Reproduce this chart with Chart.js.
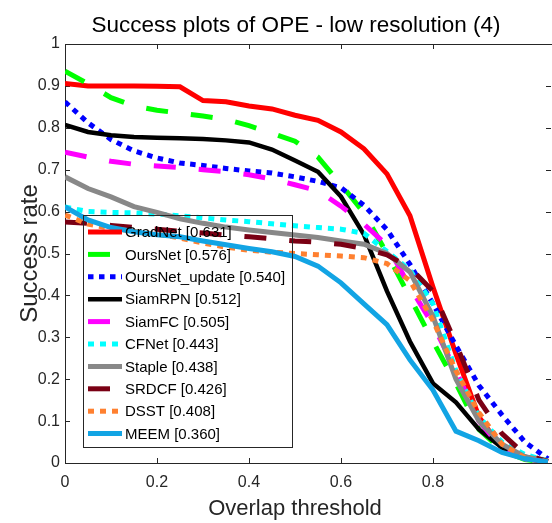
<!DOCTYPE html>
<html>
<head>
<meta charset="utf-8">
<script src="https://cdn.jsdelivr.net/npm/chart.js@4"></script>
<style>
  html, body { margin: 0; padding: 0; background: #fff; overflow: hidden; }
  #wrap { width: 560px; height: 523px; }
</style>
</head>
<body>
<div id="wrap"><canvas id="myChart" width="560" height="523"></canvas></div>
<script>
'use strict';

// overlap thresholds (x) and success rate per tracker (y)
const thresholds = [0, 0.05, 0.1, 0.15, 0.2, 0.25, 0.3, 0.35, 0.4, 0.45, 0.5, 0.55, 0.6, 0.65, 0.7, 0.75, 0.8, 0.85, 0.9, 0.95, 1, 1.05];
const gradNet       = [0.906, 0.900, 0.900, 0.900, 0.899, 0.898, 0.865, 0.862, 0.852, 0.845, 0.830, 0.818, 0.790, 0.750, 0.690, 0.590, 0.420, 0.260, 0.110, 0.035, 0.010, 0.002];
const oursNet       = [0.935, 0.905, 0.872, 0.852, 0.842, 0.835, 0.828, 0.820, 0.805, 0.787, 0.768, 0.730, 0.665, 0.597, 0.500, 0.395, 0.290, 0.190, 0.080, 0.030, 0.008, 0.002];
const oursNetUpdate = [0.862, 0.812, 0.772, 0.745, 0.728, 0.716, 0.710, 0.703, 0.697, 0.692, 0.683, 0.672, 0.657, 0.615, 0.557, 0.474, 0.380, 0.280, 0.185, 0.115, 0.050, 0.010];
const siamRPN       = [0.807, 0.790, 0.782, 0.778, 0.776, 0.775, 0.773, 0.770, 0.765, 0.748, 0.722, 0.695, 0.636, 0.545, 0.410, 0.290, 0.190, 0.145, 0.080, 0.037, 0.015, 0.004];
const siamFC        = [0.742, 0.730, 0.720, 0.713, 0.709, 0.705, 0.700, 0.695, 0.688, 0.678, 0.664, 0.650, 0.613, 0.570, 0.520, 0.420, 0.330, 0.220, 0.100, 0.035, 0.010, 0.002];
const cfNet         = [0.611, 0.600, 0.598, 0.597, 0.594, 0.590, 0.585, 0.580, 0.576, 0.571, 0.566, 0.562, 0.558, 0.548, 0.505, 0.460, 0.380, 0.220, 0.110, 0.050, 0.020, 0.005];
const staple        = [0.683, 0.655, 0.635, 0.612, 0.598, 0.583, 0.572, 0.563, 0.556, 0.550, 0.544, 0.538, 0.530, 0.522, 0.500, 0.456, 0.350, 0.200, 0.100, 0.045, 0.015, 0.004];
const srdcf         = [0.575, 0.572, 0.567, 0.562, 0.558, 0.553, 0.549, 0.544, 0.540, 0.535, 0.530, 0.527, 0.522, 0.512, 0.497, 0.466, 0.410, 0.285, 0.150, 0.070, 0.020, 0.004];
const dsst          = [0.592, 0.570, 0.560, 0.553, 0.546, 0.537, 0.525, 0.515, 0.508, 0.503, 0.500, 0.497, 0.494, 0.490, 0.476, 0.435, 0.340, 0.220, 0.120, 0.045, 0.012, 0.003];
const meem          = [0.611, 0.580, 0.562, 0.552, 0.545, 0.540, 0.530, 0.521, 0.512, 0.504, 0.493, 0.470, 0.430, 0.380, 0.330, 0.246, 0.174, 0.076, 0.053, 0.025, 0.010, 0.003];

const trackers = ['GradNet', 'OursNet', 'OursNet_update', 'SiamRPN', 'SiamFC', 'CFNet', 'Staple', 'SRDCF', 'DSST', 'MEEM'];
const scores   = [0.631, 0.576, 0.540, 0.512, 0.505, 0.443, 0.438, 0.426, 0.408, 0.360];
const series   = [gradNet, oursNet, oursNetUpdate, siamRPN, siamFC, cfNet, staple, srdcf, dsst, meem];

const xTicks = [0, 0.2, 0.4, 0.6, 0.8];
const yTicks = [0, 0.1, 0.2, 0.3, 0.4, 0.5, 0.6, 0.7, 0.8, 0.9, 1];

const FONT = '"Liberation Sans", Arial, sans-serif';
const AXIS = '#262626';

// line looks, one per tracker
const styles = [
  {color: '#ff0000', width: 5,   dash: []},
  {color: '#00ff00', width: 5,   dash: [22, 23]},
  {color: '#0000ff', width: 5,   dash: [5.5, 5.5]},
  {color: '#000000', width: 4.5, dash: []},
  {color: '#ff00ff', width: 5,   dash: [22, 23]},
  {color: '#00ffff', width: 5,   dash: [6, 6]},
  {color: '#888888', width: 5,   dash: []},
  {color: '#7a0014', width: 5,   dash: [22, 23]},
  {color: '#ff8030', width: 5,   dash: [6, 6]},
  {color: '#12a4e4', width: 5,   dash: []}
];

const datasets = trackers.map((name, i) => ({
  label: name + ' [' + scores[i].toFixed(3) + ']',
  data: thresholds.map((t, k) => ({x: t, y: series[i][k]})),
  borderColor: styles[i].color,
  borderWidth: styles[i].width,
  borderDash: styles[i].dash,
  pointRadius: 0,
  tension: 0,
  fill: false,
  order: trackers.length - i   // later trackers drawn on top, like matlab
}));

// matlab style tick text: 0, 0.1, ... 1
const tickText = v => String(Math.round(v * 10) / 10);

const boxPlugin = {
  id: 'box',
  beforeDatasetsDraw(chart) {
    const {ctx, chartArea: a, scales: {x, y}} = chart;
    ctx.save();
    ctx.strokeStyle = AXIS;
    ctx.lineWidth = 1;
    ctx.strokeRect(a.left + 0.5, a.top + 0.5, a.right - a.left, a.bottom - a.top);
    ctx.beginPath();
    xTicks.forEach(v => {
      const px = Math.round(x.getPixelForValue(v)) + 0.5;
      ctx.moveTo(px, a.bottom); ctx.lineTo(px, a.bottom - 5);
      ctx.moveTo(px, a.top);    ctx.lineTo(px, a.top + 5);
    });
    yTicks.forEach(v => {
      const py = Math.round(y.getPixelForValue(v)) + 0.5;
      ctx.moveTo(a.left, py);  ctx.lineTo(a.left + 5, py);
      ctx.moveTo(a.right - 2, py); ctx.lineTo(a.right - 7, py);
    });
    ctx.stroke();
    ctx.restore();
  },
  afterDatasetsDraw(chart) {
    const ctx = chart.ctx;
    ctx.save();
    // legend, transparent like the original
    ctx.strokeStyle = AXIS;
    ctx.lineWidth = 1;
    ctx.strokeRect(83.5, 215.5, 209, 232);
    ctx.textBaseline = 'middle';
    ctx.font = '15px ' + FONT;
    chart.data.datasets.forEach((ds, i) => {
      const rowY = 232 + i * 22.4;
      ctx.strokeStyle = ds.borderColor;
      ctx.lineWidth = ds.borderWidth;
      ctx.setLineDash(ds.borderDash);
      ctx.beginPath();
      ctx.moveTo(88, rowY);
      ctx.lineTo(122, rowY);
      ctx.stroke();
      ctx.setLineDash([]);
      ctx.fillStyle = '#000';
      ctx.fillText(ds.label, 125, rowY + 1);
    });
    // titles
    ctx.fillStyle = '#000';
    ctx.textAlign = 'center';
    ctx.font = '22.5px ' + FONT;
    ctx.fillText('Success plots of OPE - low resolution (4)', 296, 26);
    ctx.fillStyle = AXIS;
    ctx.font = '22px ' + FONT;
    ctx.fillText('Overlap threshold', 295, 509);
    ctx.restore();
  }
};

new Chart(document.getElementById('myChart'), {
  type: 'line',
  data: {datasets},
  options: {
    responsive: false,
    animation: false,
    layout: {padding: {top: 44, right: 7, left: 0, bottom: 0}},
    plugins: {legend: {display: false}, title: {display: false}, tooltip: {enabled: false}},
    scales: {
      x: {
        type: 'linear',
        min: 0,
        max: 1.061,
        afterFit: s => { s.height = 60; },
        afterBuildTicks: s => { s.ticks = xTicks.map(v => ({value: v})); },
        grid: {display: false, drawTicks: false},
        border: {display: false},
        ticks: {color: AXIS, padding: 10, maxRotation: 0, callback: tickText, font: {family: FONT, size: 16}}
      },
      y: {
        min: 0,
        max: 1,
        afterFit: s => { s.width = 65; },
        afterBuildTicks: s => { s.ticks = yTicks.map(v => ({value: v})); },
        grid: {display: false, drawTicks: false},
        border: {display: false},
        ticks: {color: AXIS, padding: 5, callback: tickText, font: {family: FONT, size: 16}},
        title: {display: true, text: 'Success rate', color: AXIS, padding: {top: 16}, font: {family: FONT, size: 24}}
      }
    }
  },
  plugins: [boxPlugin]
});
</script>
</body>
</html>
